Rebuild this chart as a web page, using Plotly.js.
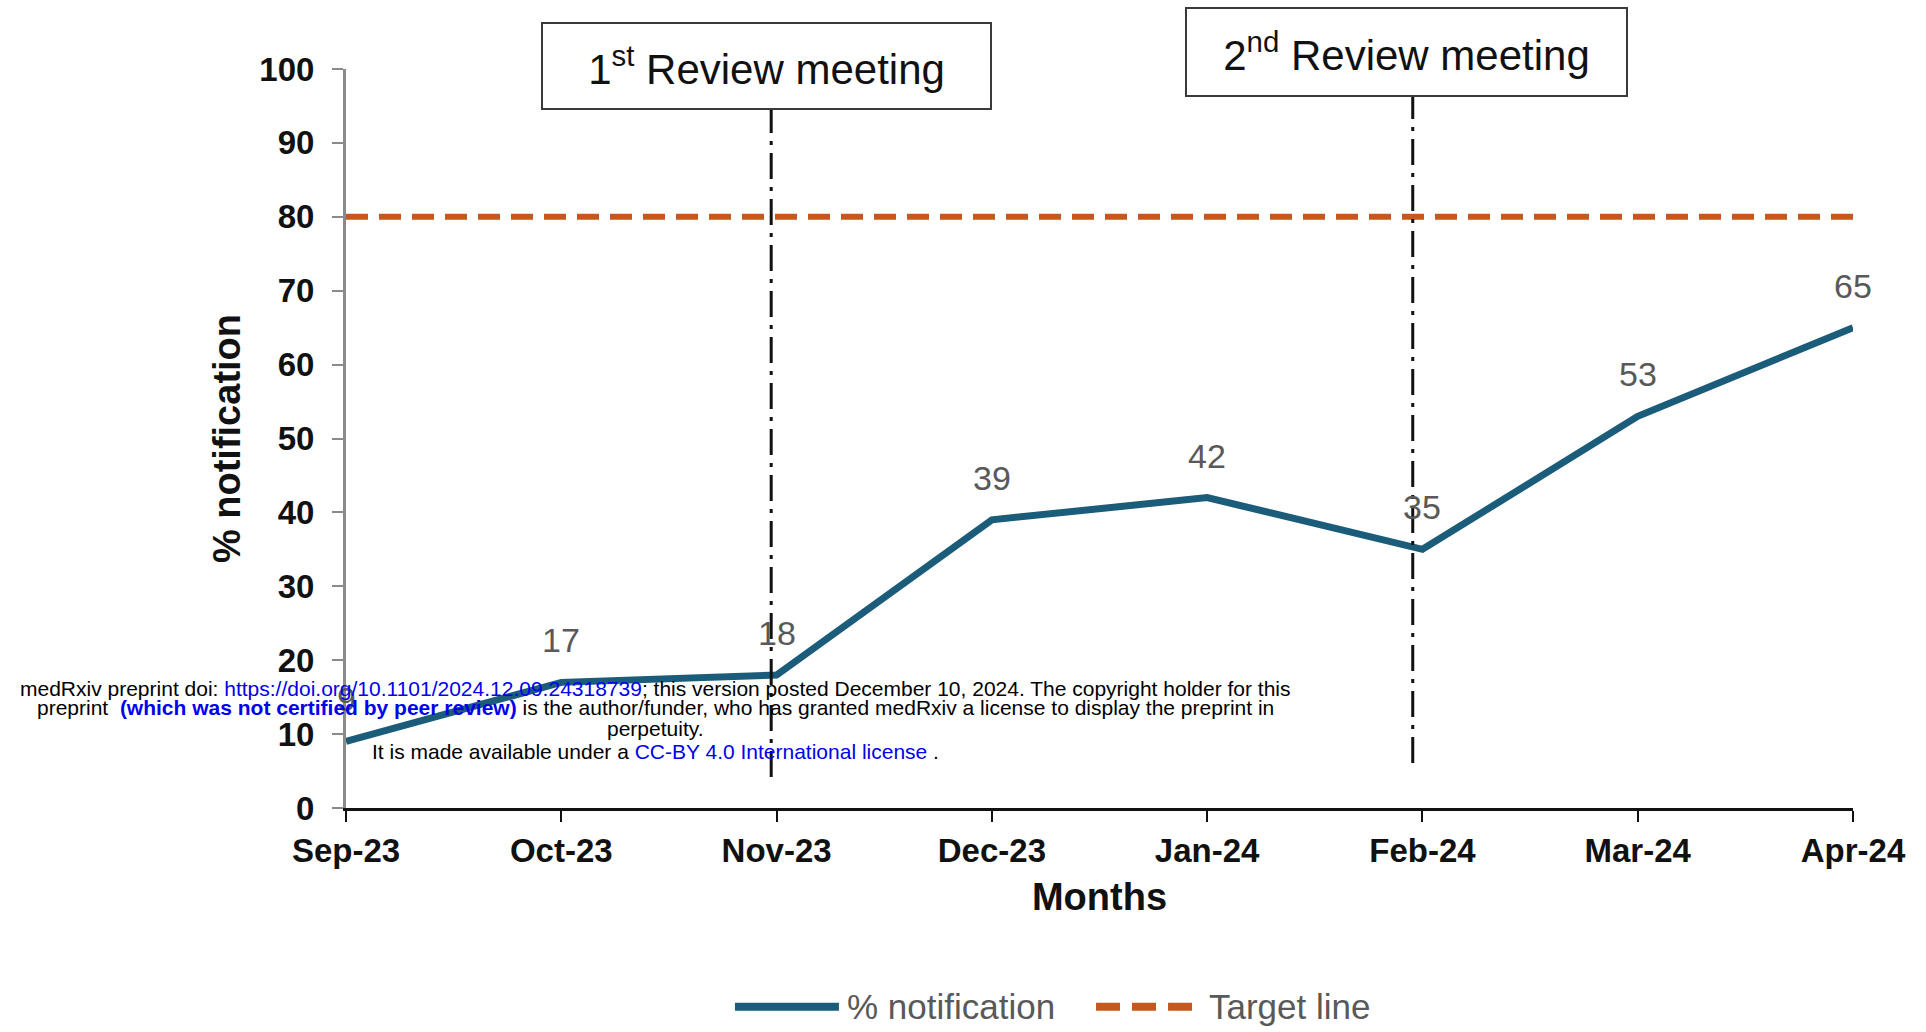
<!DOCTYPE html>
<html>
<head>
<meta charset="utf-8">
<script src="https://cdn.plot.ly/plotly-3.0.1.min.js"></script>
<style>
  html, body { margin: 0; padding: 0; background: #ffffff; }
  #chart { width: 1926px; height: 1032px; }
</style>
</head>
<body>
<div id="chart"></div>
<script>
// ---- data ----
const months = ['Sep-23', 'Oct-23', 'Nov-23', 'Dec-23', 'Jan-24', 'Feb-24', 'Mar-24', 'Apr-24'];
const notification = [9, 17, 18, 39, 42, 35, 53, 65];
const targetValues = [80, 80, 80, 80, 80, 80, 80, 80];
const seriesNames = ['% notification', 'Target line'];
const meetingMonths = ['Nov-23', 'Feb-24'];
const meetingLabels = ['1<sup>st</sup> Review meeting', '2<sup>nd</sup> Review meeting'];
const yTickValues = [0, 10, 20, 30, 40, 50, 60, 70, 80, 90, 100];
const xTitle = 'Months';
const yTitle = '% notification';
const watermarkLines = [
  'medRxiv preprint doi: <span style="color:#0000ee">https://doi.org/10.1101/2024.12.09.24318739</span>; this version posted December 10, 2024. The copyright holder for this',
  'preprint  <b><span style="color:#0000ee">(which was not certified by peer review)</span></b> is the author/funder, who has granted medRxiv a license to display the preprint in',
  'perpetuity.',
  'It is made available under a <span style="color:#0000ee">CC-BY 4.0 International license</span> .'
];

// ---- styles ----
const FONT = 'Arial, "Liberation Sans", sans-serif';
const TEAL = '#1b5c7a';
const ORANGE = '#c5581d';
const GREY_TEXT = '#595959';

const traces = [
  {
    x: months, y: notification, type: 'scatter', mode: 'lines', name: seriesNames[0],
    line: { color: TEAL, width: 7 }, showlegend: false, cliponaxis: false
  },
  {
    x: months, y: targetValues, type: 'scatter', mode: 'lines', name: seriesNames[1],
    line: { color: ORANGE, width: 6, dash: '22px,11px' }, showlegend: false
  }
];

const annotations = [];
// data labels
months.forEach((m, i) => {
  annotations.push({
    x: m, y: notification[i], xref: 'x', yref: 'y', text: String(notification[i]),
    showarrow: false, yshift: 42, font: { family: FONT, size: 34, color: GREY_TEXT }
  });
});

// meeting boxes + lines
const lineShift = [-0.025, -0.045];
const boxShift = [-0.045, -0.075];
const boxY = [1.0045, 1.0234];
const boxW = [447, 439];
const boxH = [84, 86];
const lineTop = [94.5, 96.3];
const lineBottom = [4.2, 6.1];
const shapes = [];
meetingMonths.forEach((m, k) => {
  const idx = months.indexOf(m);
  shapes.push({
    type: 'line', xref: 'x', yref: 'y',
    x0: idx + lineShift[k], x1: idx + lineShift[k], y0: lineBottom[k], y1: lineTop[k],
    line: { color: '#111111', width: 3, dash: '26px,8px,4px,8px' }
  });
  annotations.push({
    x: idx + boxShift[k], xref: 'x', y: boxY[k], yref: 'paper', yanchor: 'middle', xanchor: 'center',
    text: meetingLabels[k], showarrow: false, width: boxW[k], height: boxH[k],
    bgcolor: '#ffffff', bordercolor: '#3a3a3a', borderwidth: 2, borderpad: 0,
    font: { family: FONT, size: 42, color: '#111111' }
  });
});

// custom legend (long line samples as in the reference)
const legY = -0.2689;
shapes.push({ type: 'line', xref: 'paper', yref: 'paper', x0: 0.2581, x1: 0.3271, y0: legY, y1: legY,
  line: { color: TEAL, width: 8 } });
shapes.push({ type: 'line', xref: 'paper', yref: 'paper', x0: 0.4977, x1: 0.5614, y0: legY, y1: legY,
  line: { color: ORANGE, width: 8, dash: '24px,12px' } });
annotations.push({ x: 0.3311, y: legY, xref: 'paper', yref: 'paper', xanchor: 'left', yanchor: 'middle',
  text: seriesNames[0], showarrow: false, font: { family: FONT, size: 35, color: GREY_TEXT } });
annotations.push({ x: 0.5713, y: legY, xref: 'paper', yref: 'paper', xanchor: 'left', yanchor: 'middle',
  text: seriesNames[1], showarrow: false, font: { family: FONT, size: 35, color: GREY_TEXT } });

// medRxiv overlay
const wmY = [0.1614, 0.1357, 0.1073, 0.0762];
watermarkLines.forEach((t, i) => {
  annotations.push({ x: 0.2057, y: wmY[i], xref: 'paper', yref: 'paper', xanchor: 'center', yanchor: 'middle',
    text: t, showarrow: false, font: { family: FONT, size: 21, color: '#000000' } });
});

const layout = {
  width: 1926, height: 1032,
  paper_bgcolor: '#ffffff', plot_bgcolor: '#ffffff',
  margin: { l: 346, r: 73, t: 69, b: 224 },
  showlegend: false,
  font: { family: FONT },
  xaxis: {
    type: 'category', range: [0, 7],
    showline: true, linecolor: '#111111', linewidth: 3,
    ticks: 'outside', ticklen: 11, tickwidth: 2, tickcolor: '#111111',
    showgrid: false, zeroline: false,
    tickfont: { family: FONT, size: 33, color: '#111111', weight: 700 },
    title: { text: xTitle, standoff: 16, font: { family: FONT, size: 38, color: '#111111', weight: 700 } }
  },
  yaxis: {
    range: [0, 100], tickvals: yTickValues,
    showline: true, linecolor: '#8a8a8a', linewidth: 3,
    ticks: 'outside', ticklen: 11, tickwidth: 2, tickcolor: '#8a8a8a',
    showgrid: false, zeroline: false,
    ticklabelstandoff: 11,
    tickfont: { family: FONT, size: 33, color: '#111111', weight: 700 },
    title: { text: yTitle, standoff: 8, font: { family: FONT, size: 38, color: '#111111', weight: 700 } }
  },
  shapes: shapes,
  annotations: annotations
};

Plotly.newPlot('chart', traces, layout, { staticPlot: true, displayModeBar: false });
</script>
</body>
</html>
